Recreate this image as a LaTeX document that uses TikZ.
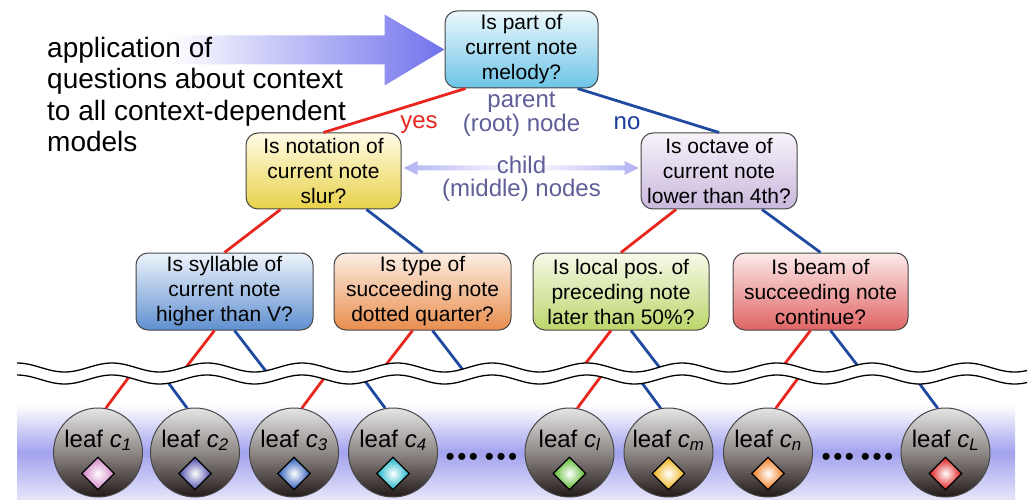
\documentclass[tikz,border=0pt]{standalone}
\usepackage{fontspec}
\setmainfont{Liberation Sans}
\usetikzlibrary{calc,shapes.geometric}
\definecolor{redE}{HTML}{E8261E}
\definecolor{blueE}{HTML}{1F4AA0}
\definecolor{lblC}{HTML}{5E5E98}
\definecolor{noC}{HTML}{1A3C9C}
\definecolor{outlineC}{HTML}{474747}
\definecolor{arrowB}{HTML}{7272EC}
\definecolor{lavC}{HTML}{B2B2F4}
\definecolor{bandC}{HTML}{A2A2EE}
\definecolor{bandB}{HTML}{E6E6FA}
\begin{document}
\begin{tikzpicture}[x=1pt,y=-1pt,
  qbox/.style={draw=outlineC, line width=1pt, rounded corners=12pt, minimum height=77pt,
    align=center, inner sep=1pt, font=\fontsize{21}{25}\selectfont},
  redge/.style={draw=redE, line width=2.8pt},
  bedge/.style={draw=blueE, line width=2.8pt},
  leaf/.style={circle, draw=outlineC, line width=1pt, minimum size=89pt, inner sep=0pt,
    top color=gray!20, bottom color={rgb,255:red,34;green,26;blue,24}, middle color={rgb,255:red,142;green,136;blue,134}},
  leaftext/.style={anchor=base, inner sep=0pt, font=\fontsize{24}{24}\selectfont},
  gem/.style={diamond, draw=black, line width=1.3pt, minimum size=33pt, inner sep=0pt,
    inner color=white, outer color=#1},
  lbl/.style={align=center, inner sep=0pt, text=lblC, font=\fontsize{24}{23.5}\selectfont},
  dots/.style={anchor=center, inner sep=0pt, font=\fontsize{26}{26}\selectfont}
]
\useasboundingbox (0,0) rectangle (1029,500);

% background band of the leaves
\shade[top color=white, bottom color=bandB, middle color=bandC] (17,405) rectangle (1015,500);

% question boxes
\node[qbox, minimum width=153pt, top color={rgb,255:red,236;green,248;blue,252}, bottom color={rgb,255:red,108;green,196;blue,230}] (root) at (521.5,49.5) {Is part of\\current note\\melody?};
\node[qbox, minimum width=155pt, minimum height=76pt, top color={rgb,255:red,255;green,251;blue,230}, bottom color={rgb,255:red,232;green,210;blue,74}] (yellow) at (323.5,171) {Is notation of\\current note\\slur?};
\node[qbox, minimum width=156pt, minimum height=76pt, top color={rgb,255:red,248;green,242;blue,250}, bottom color={rgb,255:red,200;green,184;blue,220}] (purple) at (719,171) {Is octave of\\current note\\lower than 4th?};
\node[qbox, minimum width=177pt, top color={rgb,255:red,238;green,244;blue,251}, bottom color={rgb,255:red,95;green,143;blue,208}] (qblue) at (224.5,291.5) {Is syllable of\\current note\\higher than V?};
\node[qbox, minimum width=177pt, top color={rgb,255:red,253;green,238;blue,228}, bottom color={rgb,255:red,232;green,142;blue,78}] (qorange) at (422.5,291.5) {Is type of\\succeeding note\\dotted quarter?};
\node[qbox, minimum width=176pt, top color={rgb,255:red,246;green,249;blue,234}, bottom color={rgb,255:red,188;green,214;blue,106}] (qgreen) at (621,291.5) {Is local pos. of\\preceding note\\later than 50\%?};
\node[qbox, minimum width=175pt, top color={rgb,255:red,253;green,234;blue,234}, bottom color={rgb,255:red,224;green,100;blue,100}] (qred) at (820.5,291.5) {Is beam of\\succeeding note\\continue?};

% big arrow towards the root
\shade[left color=white, right color=arrowB] (root.west) -- ++(-60,-35) -- ++(0,21) -- ++(-215,0) -- ++(0,29) -- ++(215,0) -- ++(0,21) -- cycle;

% intro text (base anchor = baseline of the last line)
\node[font=\fontsize{28}{31.5}\selectfont, align=left, anchor=base west, inner sep=0pt] (intro) at (47,151.7) {application of\\questions about context\\to all context-dependent\\models};

% edges of the tree
\draw[redge] ($(root.south)+(-56,0)$) -- (yellow.north);
\draw[bedge] ($(root.south)+(56,0)$) -- (purple.north);
\draw[redge] ($(yellow.south)+(-43,0)$) -- (qblue.north);
\draw[bedge] ($(yellow.south)+(43,0)$) -- (qorange.north);
\draw[redge] ($(purple.south)+(-43,0)$) -- (qgreen.north);
\draw[bedge] ($(purple.south)+(43,0)$) -- (qred.north);

% leaves
\foreach \n/\x/\c/\s in {l1/98/D080C4/1, l2/195/4A4AA8/2, l3/294/2858B8/3, l4/393/18B4C8/4, ll/569.5/58B828/l, lm/668.5/F0B010/m, ln/768/F07818/n, lL/945.5/E01818/L}{
  \definecolor{gc}{HTML}{\c}
  \node[leaf] (\n) at (\x,452.5) {};
  \node[leaftext] (\n t) at (\x,447) {leaf \textit{c\textsubscript{\s}}};
  \node[gem=gc] (\n d) at (\x,473.5) {};
}

% segments above the wavy band
\draw[redge] ($(qblue.south)+(-10,0)$) -- ++(-34,44);
\draw[bedge] ($(qblue.south)+(10,0)$) -- ++(34,44);
\draw[redge] ($(qorange.south)+(-10,0)$) -- ++(-34,44);
\draw[bedge] ($(qorange.south)+(10,0)$) -- ++(34,44);
\draw[redge] ($(qgreen.south)+(-10,0)$) -- ++(-34,44);
\draw[bedge] ($(qgreen.south)+(10,0)$) -- ++(34,44);
\draw[redge] ($(qred.south)+(-10,0)$) -- ++(-34,44);
\draw[bedge] ($(qred.south)+(10,0)$) -- ++(34,44);

% segments below the wavy band
\draw[redge] ($(l1.80)+(26,-35)$) -- (l1.80);
\draw[bedge] ($(l2.100)+(-26,-35)$) -- (l2.100);
\draw[redge] ($(l3.80)+(26,-35)$) -- (l3.80);
\draw[bedge] ($(l4.100)+(-26,-35)$) -- (l4.100);
\draw[redge] ($(ll.80)+(26,-35)$) -- (ll.80);
\draw[bedge] ($(lm.100)+(-26,-35)$) -- (lm.100);
\draw[redge] ($(ln.80)+(26,-35)$) -- (ln.80);
\draw[bedge] ($(lL.100)+(-26,-35)$) -- (lL.100);

% wavy break
\fill[white] plot[domain=17:1027, samples=220] (\x,{367.5-4.5*cos(3.789474*(\x-17))})
  -- plot[domain=1027:17, samples=220] (\x,{379.5-4.5*cos(3.789474*(\x-17))}) -- cycle;
\draw[black, line width=1.3pt] plot[domain=17:1027, samples=220, smooth] (\x,{367.5-4.5*cos(3.789474*(\x-17))});
\draw[black, line width=1.3pt] plot[domain=17:1027, samples=220, smooth] (\x,{379.5-4.5*cos(3.789474*(\x-17))});

% dots
\node[dots] (dotsA) at (481.5,459) {•\kern2.5pt•\kern2.5pt•\kern7pt•\kern2.5pt•\kern2.5pt•};
\node[dots] (dotsB) at (857.5,459) {•\kern2.5pt•\kern2.5pt•\kern7pt•\kern2.5pt•\kern2.5pt•};

% double arrow between the child nodes
\coordinate (dl) at ($(yellow.east)+(2,-3)$);
\coordinate (dr) at ($(purple.west)+(-2,-3)$);
\shade[left color=lavC, right color=lavC, middle color=white] (dl) -- ++(14,-7) -- ++(0,4.5) -- ($(dr)+(-14,-2.5)$) -- ++(0,-4.5) -- (dr) -- ++(-14,7) -- ++(0,-4.5) -- ($(dl)+(14,2.5)$) -- ++(0,4.5) -- cycle;

% labels
\node[lbl] (parent) at (521.5,114) {parent\\(root) node};
\node[lbl] (child) at (521.5,179) {child\\(middle) nodes};
\node[inner sep=0pt, text=redE, font=\fontsize{24}{24}\selectfont] (yes) at (419,125) {yes};
\node[inner sep=0pt, text=noC, font=\fontsize{24}{24}\selectfont] (no) at (627,123) {no};
\end{tikzpicture}
\end{document}
